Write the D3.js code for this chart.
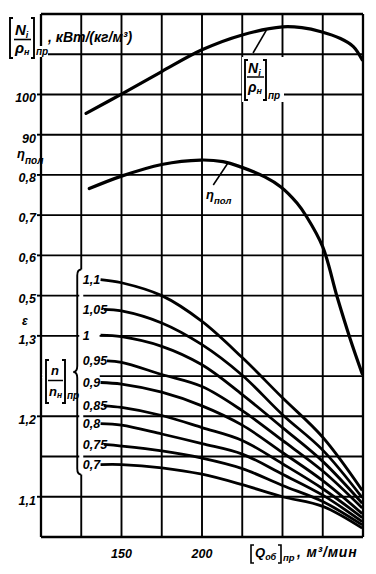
<!DOCTYPE html>
<html><head><meta charset="utf-8">
<script src="https://cdn.jsdelivr.net/npm/d3@7/dist/d3.min.js"></script>
<style>
html,body{margin:0;padding:0;background:#fff;}
text{font-family:"Liberation Sans",Arial,sans-serif;font-weight:bold;font-style:italic;fill:#000;}
</style></head><body>
<svg id="chart" width="376" height="574"></svg>
<script>
// ---------- data ----------
const qGrid = [100, 125, 150, 175, 200, 225, 250, 275, 300];
const xTickValues = [150, 200];
const nTickValues = [100, 90];
const etaTickValues = [0.8, 0.7, 0.6, 0.5];
const epsTickValues = [1.3, 1.2, 1.1];

const powerQ = [128, 150, 175, 200, 225, 250, 262, 274, 286, 294, 299.5];
const powerN = [95.3, 100.1, 105.7, 111.1, 114.8, 116.8, 116.6, 115.6, 113.9, 111.9, 108.6];

const etaQ = [130, 150, 175, 199, 213, 224, 239, 249, 259, 265, 275, 284, 292, 299.5];
const etaValues = [0.766, 0.797, 0.826, 0.837, 0.833, 0.820, 0.795, 0.770, 0.730, 0.696, 0.621, 0.496, 0.393, 0.306];

const speedLabels = ["1,1", "1,05", "1", "0,95", "0,9", "0,85", "0,8", "0,75", "0,7"];
const epsStartQ = [137, 139, 137, 141, 137, 139, 137, 139, 137];
const epsQ = [150, 175, 200, 225, 250, 275, 299.5];
const eps110 = [1.370, 1.366, 1.350, 1.318, 1.273, 1.223, 1.174, 1.108];
const eps105 = [1.333, 1.331, 1.316, 1.289, 1.251, 1.202, 1.158, 1.099];
const eps100 = [1.301, 1.299, 1.287, 1.264, 1.227, 1.186, 1.144, 1.092];
const eps095 = [1.269, 1.267, 1.252, 1.237, 1.207, 1.170, 1.132, 1.086];
const eps090 = [1.242, 1.240, 1.230, 1.213, 1.189, 1.155, 1.120, 1.079];
const eps085 = [1.213, 1.211, 1.201, 1.186, 1.170, 1.141, 1.110, 1.074];
const eps080 = [1.191, 1.189, 1.178, 1.166, 1.153, 1.128, 1.102, 1.069];
const eps075 = [1.165, 1.163, 1.157, 1.148, 1.135, 1.114, 1.094, 1.065];
const eps070 = [1.140, 1.140, 1.136, 1.128, 1.115, 1.100, 1.088, 1.061];
const epsSeries = [eps110, eps105, eps100, eps095, eps090, eps085, eps080, eps075, eps070];

// ---------- layout ----------
const svg = d3.select("#chart");
const m = {l: 41, r: 363, t: 14, b: 537};
const x = d3.scaleLinear().domain([100, 300]).range([m.l, m.r]);
const yEps = d3.scaleLinear().domain([1.70, 1.05]).range([m.t, m.b]);
const yEta = d3.scaleLinear().domain([1.2, -0.1]).range([m.t, m.b]);
const yN = d3.scaleLinear().domain([120, -10]).range([m.t, m.b]);
const rows = d3.range(0, 14).map(i => +(1.70 - i * 0.05).toFixed(2));
const fmt = v => String(v).replace(".", ",");
const ink = "#000";

// grid
const grid = svg.append("g");
grid.selectAll("line.v").data(qGrid).join("line")
  .attr("x1", d => x(d)).attr("x2", d => x(d)).attr("y1", m.t).attr("y2", m.b)
  .attr("stroke", ink).attr("stroke-width", (d, i) => (i === 0 || i === qGrid.length - 1) ? 2.3 : 1.9);
grid.selectAll("line.h").data(rows).join("line")
  .attr("x1", m.l).attr("x2", m.r).attr("y1", d => yEps(d)).attr("y2", d => yEps(d))
  .attr("stroke", ink).attr("stroke-width", (d, i) => (i === 0 || i === rows.length - 1) ? 2.3 : 1.9);

// left tick stubs
const tickYs = nTickValues.map(yN).concat(etaTickValues.map(yEta), epsTickValues.map(yEps));
grid.selectAll("line.t").data(tickYs).join("line")
  .attr("x1", m.l - 4).attr("x2", m.l).attr("y1", d => d).attr("y2", d => d)
  .attr("stroke", ink).attr("stroke-width", 1.9);

// masks (gaps in grid behind the brace and labels)
const braceTop = yEps(eps110[0]) - 10, braceBot = yEps(eps070[0]) + 10, braceMid = (braceTop + braceBot) / 2;
svg.append("rect").attr("x", x(125) - 2).attr("y", braceTop).attr("width", 4).attr("height", braceBot - braceTop).attr("fill", "#fff");
svg.append("rect").attr("x", m.l + 1.2).attr("y", yEps(1.25) - 2).attr("width", x(137) - m.l - 2).attr("height", 4).attr("fill", "#fff");
svg.append("rect").attr("x", x(125) + 1).attr("y", yEps(1.30) - 2).attr("width", x(137) - x(125) - 2).attr("height", 4).attr("fill", "#fff");

// ---------- curves ----------
const line = d3.line().x(d => x(d[0])).curve(d3.curveCatmullRom.alpha(0.5));
svg.append("path").datum(powerQ.map((q, i) => [q, powerN[i]]))
  .attr("d", line.y(d => yN(d[1]))).attr("fill", "none").attr("stroke", ink).attr("stroke-width", 3.2).attr("stroke-linecap", "round");
svg.append("path").datum(etaQ.map((q, i) => [q, etaValues[i]]))
  .attr("d", line.y(d => yEta(d[1]))).attr("fill", "none").attr("stroke", ink).attr("stroke-width", 3.2).attr("stroke-linecap", "round");

const epsLine = d3.line().x(d => x(d[0])).y(d => yEps(d[1])).curve(d3.curveCatmullRom.alpha(0.5));
epsSeries.forEach((s, i) => {
  const pts = [[epsStartQ[i], s[0]]].concat(epsQ.map((q, j) => [q, s[j + 1]]));
  svg.append("path").datum(pts).attr("d", epsLine)
    .attr("fill", "none").attr("stroke", ink).attr("stroke-width", 2.8);
});

// ---------- labels ----------
function bracket(xPos, y0, y1, open, w) {
  const s = open ? 3 : -3;
  svg.append("path").attr("d", `M${xPos + s},${y0}H${xPos}V${y1}H${xPos + s}`)
    .attr("fill", "none").attr("stroke", ink).attr("stroke-width", w || 1.9);
}
function txt(xp, yp, size, str, anchor) {
  return svg.append("text").attr("x", xp).attr("y", yp).attr("font-size", size)
    .attr("text-anchor", anchor || "start").text(str);
}
function sub(t, str, size, dy) {
  t.append("tspan").attr("font-size", size).attr("dy", dy).text(str);
}

// left axis numbers
nTickValues.forEach(v => txt(36, yN(v) + 8, 12.5, String(v), "end"));
etaTickValues.forEach(v => txt(36, yEta(v) + 7, 12.5, fmt(v.toFixed(1)), "end"));
epsTickValues.forEach(v => txt(36, yEps(v) + 8, 12.5, fmt(v.toFixed(1)), "end"));

// eta axis title
{ const t = txt(17, yEta(0.8) - 17, 13, "η"); sub(t, "пол", 10, 6); }
// eps axis title
txt(22, yEps(1.3) - 11, 12, "ε");

// top-left power title
bracket(10, 18, 58, true);
txt(15, 35, 15, "N").call(t => sub(t, "i", 9, 3));
svg.append("line").attr("x1", 14).attr("x2", 31).attr("y1", 39.5).attr("y2", 39.5).attr("stroke", ink).attr("stroke-width", 1.6);
txt(15, 53, 15, "ρ").call(t => sub(t, "н", 9, 2));
bracket(34, 18, 58, false);
svg.append("rect").attr("x", 37).attr("y", 46).attr("width", 11).attr("height", 11).attr("fill", "#fff");
txt(36, 55, 10, "пр");
txt(48, 42, 14, ", кВт/(кг/м³)");

// label on power curve
svg.append("rect").attr("x", 242).attr("y", 57).attr("width", 42).attr("height", 45).attr("fill", "#fff");
svg.append("line").attr("x1", x(240)).attr("y1", yN(116.0)).attr("x2", x(231.7)).attr("y2", yN(110.3))
  .attr("stroke", ink).attr("stroke-width", 1.6);
bracket(245, 60, 100, true);
txt(248, 73, 14, "N").call(t => sub(t, "i", 9, 3));
svg.append("line").attr("x1", 247).attr("x2", 264).attr("y1", 77).attr("y2", 77).attr("stroke", ink).attr("stroke-width", 1.5);
txt(248, 92, 14, "ρ").call(t => sub(t, "н", 9, 2));
bracket(266, 60, 100, false);
txt(268, 99, 10, "пр");

// label on efficiency curve
svg.append("line").attr("x1", x(216)).attr("y1", yEta(0.829)).attr("x2", x(207)).attr("y2", yEta(0.775))
  .attr("stroke", ink).attr("stroke-width", 1.6);
{ const t = txt(206, 199, 13, "η"); sub(t, "пол", 9.5, 5); }

// speed ratio labels
speedLabels.forEach((s, i) => {
  const t = txt(x(125) + 1.5, yEps(epsSeries[i][0]) + 4.5, 12.5, s);
  if (s === "1") {
    const b = t.node().getBBox();
    svg.insert("rect", "text").attr("x", b.x - 1).attr("y", b.y).attr("width", b.width + 2).attr("height", b.height).attr("fill", "#fff");
  }
});

// brace
{
  const bx = x(125) - 4;
  svg.append("path").attr("d",
    `M${bx + 4},${braceTop} Q${bx},${braceTop} ${bx},${braceTop + 6} L${bx},${braceMid - 6} Q${bx},${braceMid} ${bx - 4},${braceMid} ` +
    `Q${bx},${braceMid} ${bx},${braceMid + 6} L${bx},${braceBot - 6} Q${bx},${braceBot} ${bx + 4},${braceBot}`)
    .attr("fill", "none").attr("stroke", ink).attr("stroke-width", 1.9);
}
// [n/n_н]_пр label
bracket(46, 360, 403, true);
txt(51, 375, 13, "n");
svg.append("line").attr("x1", 48).attr("x2", 63).attr("y1", 380.5).attr("y2", 380.5).attr("stroke", ink).attr("stroke-width", 1.5);
txt(49, 396, 13, "n").call(t => sub(t, "н", 8.5, 2));
bracket(65, 360, 403, false);
txt(67, 399, 10, "пр");

// x axis
xTickValues.forEach(v => txt(x(v), m.b + 21, 12.5, String(v), "middle"));
bracket(251, 545, 563, true, 1.6);
txt(255, 557, 13, "Q").call(t => sub(t, "об", 9, 3));
bracket(281, 545, 563, false, 1.6);
txt(283, 561, 9.5, "пр");
txt(297, 557, 14, ", м³/мин").attr("letter-spacing", 0.8);
</script>
</body></html>
